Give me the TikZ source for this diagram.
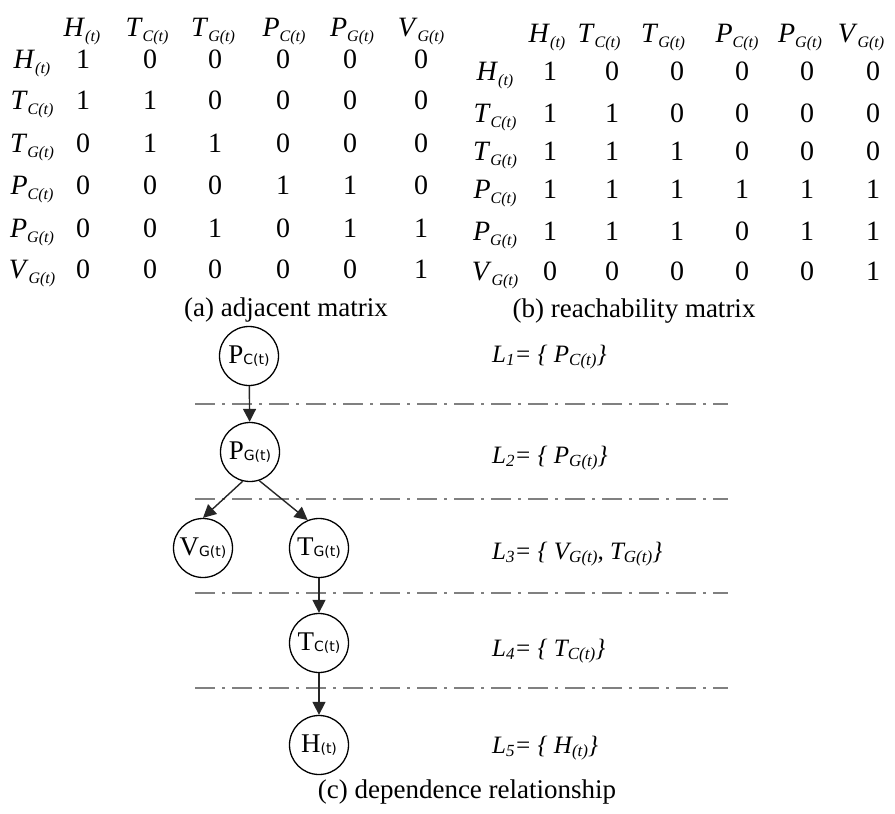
\documentclass[tikz,border=0pt]{standalone}
\usepackage{fontspec}
\setmainfont{Liberation Serif}
\newfontfamily\subsans{DejaVu Sans}
\usetikzlibrary{arrows.meta}

% matrix symbols: italic letter with a lowered italic index
\newcommand\msym[2]{\textit{#1}\raisebox{-0.45ex}{\fontsize{16}{16}\selectfont\textit{#2}}}
% graph node labels: upright letter with a small sans index
\newcommand\gsym[2]{{\fontsize{27}{27}\selectfont #1}\raisebox{-0.35ex}{\subsans\fontsize{14}{14}\selectfont #2}}
% level-set labels
\newcommand\lsym[2]{#1\raisebox{-0.3ex}{\fontsize{17}{17}\selectfont #2}}

\begin{document}
\begin{tikzpicture}[x=1pt,y=-1pt,
  mtext/.style={anchor=base,inner sep=0pt,font=\fontsize{28}{28}\selectfont},
  caption/.style={anchor=base,inner sep=0pt,font=\fontsize{27}{27}\selectfont},
  state/.style={circle,draw=black,line width=1.3pt,minimum size=59pt,inner sep=0pt},
  edge/.style={draw=black!85,line width=1.4pt,-{Triangle[length=13pt,width=13pt]}},
  level/.style={draw=black!50,line width=1.1pt,dash pattern=on 20pt off 7pt on 3pt off 7pt},
  lset/.style={anchor=base west,inner sep=0pt,font=\fontsize{25}{25}\selectfont\itshape}]
\useasboundingbox (0,0) rectangle (895,814);

% ---------- (a) adjacent matrix ----------
\foreach \x/\s/\i [count=\c] in {82/H/(t),147/T/C(t),213/T/G(t),284/P/C(t),352/P/G(t),421/V/G(t)}
  \node[mtext] (ah-\c) at (\x,36) {\msym{\s}{\i}};
\foreach \y/\s/\i [count=\r] in {68/H/(t),109/T/C(t),152/T/G(t),194/P/C(t),237/P/G(t),278/V/G(t)}
  \node[mtext] (ar-\r) at (32,\y) {\msym{\s}{\i}};
\foreach \y/\a/\b/\cc/\d/\e/\f [count=\r] in {68/1/0/0/0/0/0,109/1/1/0/0/0/0,152/0/1/1/0/0/0,
                                194/0/0/0/1/1/0,237/0/0/1/0/1/1,278/0/0/0/0/0/1}
  \foreach \x/\v [count=\c] in {83/\a,150/\b,215/\cc,283/\d,350/\e,421/\f}
    \node[mtext] (a-\r-\c) at (\x,\y) {\v};
\node[caption] (capa) at (286,316) {(a) adjacent matrix};

% ---------- (b) reachability matrix ----------
\foreach \x/\s/\i [count=\c] in {547/H/(t),599/T/C(t),663/T/G(t),737/P/C(t),800/P/G(t),861/V/G(t)}
  \node[mtext] (bh-\c) at (\x,42) {\msym{\s}{\i}};
\foreach \y/\s/\i [count=\r] in {80/H/(t),122/T/C(t),160/T/G(t),198/P/C(t),240/P/G(t),280/V/G(t)}
  \node[mtext] (br-\r) at (495,\y) {\msym{\s}{\i}};
\foreach \y/\a/\b/\cc/\d/\e/\f [count=\r] in {80/1/0/0/0/0/0,122/1/1/0/0/0/0,160/1/1/1/0/0/0,
                                198/1/1/1/1/1/1,240/1/1/1/0/1/1,280/0/0/0/0/0/1}
  \foreach \x/\v [count=\c] in {550/\a,612/\b,677/\cc,742/\d,807/\e,873/\f}
    \node[mtext] (b-\r-\c) at (\x,\y) {\v};
\node[caption] (capb) at (634,317) {(b) reachability matrix};

% ---------- (c) dependence relationship ----------
\foreach \y [count=\k] in {404,499,593,688}
  \path[level] (195,\y) coordinate (ls-\k) -- (728,\y) coordinate (le-\k);

\node[state] (pc) at (249,356) {\gsym{P}{C(t)}};
\node[state] (pg) at (250,452) {\gsym{P}{G(t)}};
\node[state] (vg) at (203,548) {\gsym{V}{G(t)}};
\node[state] (tg) at (319,548) {\gsym{T}{G(t)}};
\node[state] (tc) at (319,643) {\gsym{T}{C(t)}};
\node[state] (h)  at (319,745) {\gsym{H}{(t)}};

\draw[edge] (pc) -- (pg);
\draw[edge] (pg.-104) -- (vg.north);
\draw[edge] (pg.-72) -- (tg.112);
\draw[edge] (tg) -- (tc);
\draw[edge] (tc) -- (h);

\node[lset] (l1) at (492,362) {\lsym{L}{1}= \{ \lsym{P}{C(t)}\}};
\node[lset] (l2) at (492,463) {\lsym{L}{2}= \{ \lsym{P}{G(t)}\}};
\node[lset] (l3) at (492,559) {\lsym{L}{3}= \{ \lsym{V}{G(t)}, \lsym{T}{G(t)}\}};
\node[lset] (l4) at (492,656) {\lsym{L}{4}= \{ \lsym{T}{C(t)}\}};
\node[lset] (l5) at (492,753) {\lsym{L}{5}= \{ \lsym{H}{(t)}\}};

\node[caption] (capc) at (467,798) {(c) dependence relationship};
\end{tikzpicture}
\end{document}
